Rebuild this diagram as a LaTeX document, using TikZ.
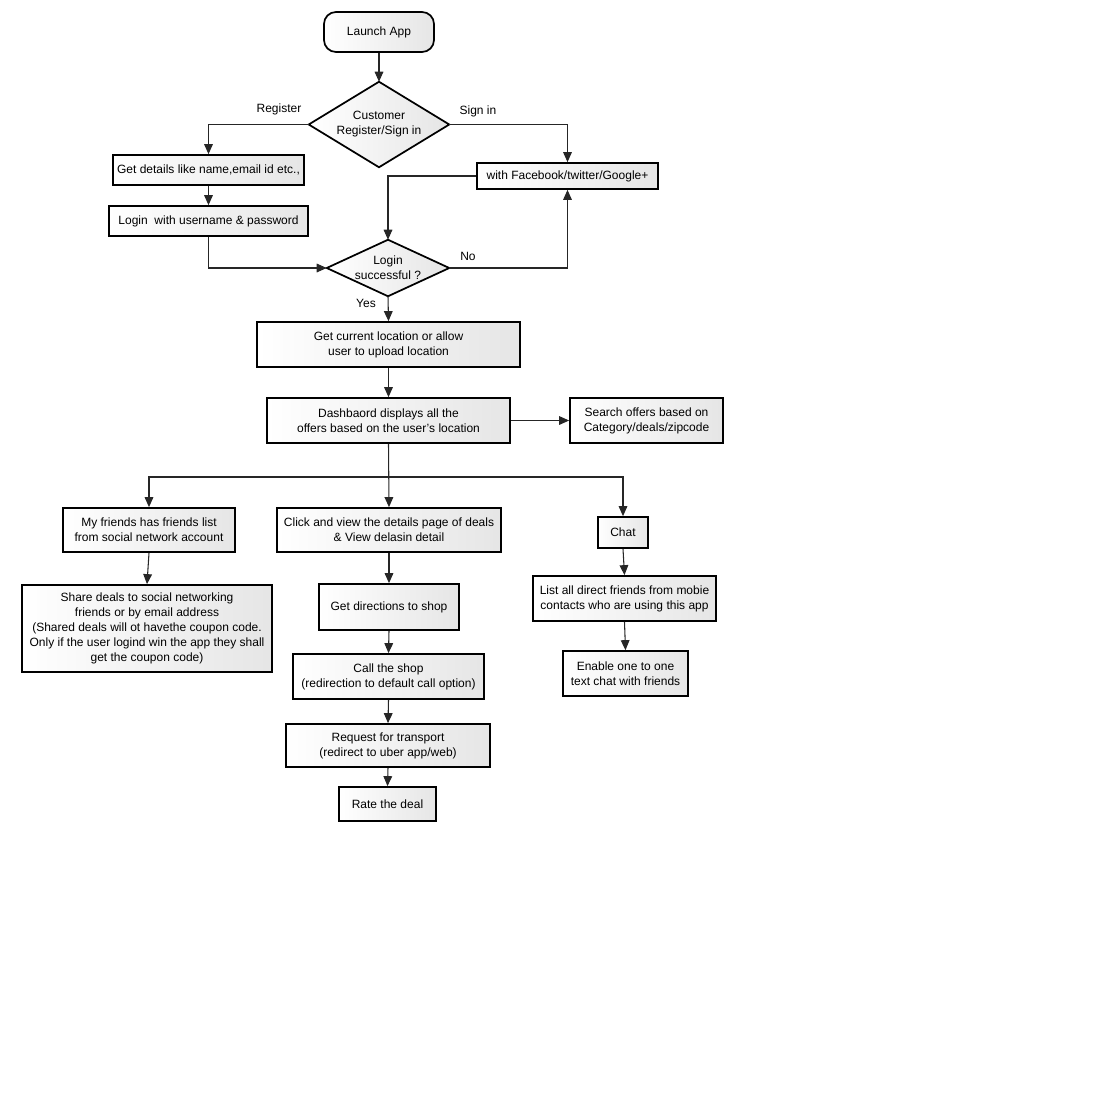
\documentclass[tikz,border=0pt]{standalone}
\usepackage{fontspec}
\setmainfont{Liberation Sans}
\usetikzlibrary{arrows.meta}
\pgfdeclarelayer{bg}
\pgfsetlayers{bg,main}
\tikzset{
  x=0.75pt, y=-0.75pt,
  txt/.style={font=\fontsize{9}{11.25}\selectfont, align=center, inner sep=0pt},
  sz/.style 2 args={minimum width=#1*0.75pt, minimum height=#2*0.75pt},
  box/.style={txt, draw=black, line width=1.3pt, left color=white, right color=black!10},
  rbox/.style={box, rounded corners=9pt},
  dianode/.style={txt},
  diashape/.style={draw=black, line width=1.3pt, left color=white, right color=black!10},
  conn/.style={draw=black!85, line width=0.8pt, -{Triangle[length=7.5pt,width=6.5pt]}},
  lbl/.style={txt}
}
\begin{document}
\begin{tikzpicture}
\useasboundingbox (0,0) rectangle (1100,1100);

% nodes
\node[rbox, sz={110}{40}] (launch) at (379,32) {Launch App};
\node[dianode, sz={140}{85}] (cust) at (379,124.5) {Customer\\Register/Sign in};
\node[box, sz={191}{30}] (details) at (208.5,170) {Get details like name,email id etc.,};
\node[box, sz={199}{30}] (loginpw) at (208.5,221) {Login\ \ with username \& password};
\node[box, sz={181}{26}] (fb) at (567.5,176) {with Facebook/twitter/Google+};
\node[dianode, sz={122}{56}] (ok) at (388,268) {Login\\successful ?};
\node[box, sz={263}{45}] (loc) at (388.5,344.5) {Get current location or allow\\user to upload location};
\node[box, sz={243}{45}] (dash) at (388.5,420.5) {Dashbaord displays all the\\offers based on the user's location};
\node[box, sz={153}{45}] (search) at (646.5,420.5) {Search offers based on\\Category/deals/zipcode};
\node[box, sz={172}{44}] (friends) at (149,530) {My friends has friends list\\from social network account};
\node[box, sz={224}{44}] (click) at (389,530) {Click and view the details page of deals\\\& View delasin detail};
\node[box, sz={50}{31}] (chat) at (623,532.5) {Chat};
\node[box, sz={250}{87}] (share) at (147,628.5) {Share deals to social networking\\friends or by email address\\(Shared deals will ot havethe coupon code.\\Only if the user logind win the app they shall\\get the coupon code)};
\node[box, sz={140}{46}] (dir) at (389,607) {Get directions to shop};
\node[box, sz={191}{45}] (call) at (388.5,676.5) {Call the shop\\(redirection to default call option)};
\node[box, sz={204}{43}] (uber) at (388,745.5) {Request for transport\\(redirect to uber app/web)};
\node[box, sz={97}{34}] (rate) at (387.5,804) {Rate the deal};
\node[box, sz={183}{45}] (list) at (624.5,598.5) {List all direct friends from mobie\\contacts who are using this app};
\node[box, sz={125}{45}] (enable) at (625.5,673.5) {Enable one to one\\text chat with friends};

\begin{pgfonlayer}{bg}
  \path[diashape] (cust.north) -- (cust.east) -- (cust.south) -- (cust.west) -- cycle;
  \path[diashape] (ok.north) -- (ok.east) -- (ok.south) -- (ok.west) -- cycle;
\end{pgfonlayer}

% labels
\node[lbl] (lreg) at (279,109) {Register};
\node[lbl] (lsign) at (478,111) {Sign in};
\node[lbl] (lno) at (468,256) {No};
\node[lbl] (lyes) at (366,303) {Yes};

% connectors
\draw[conn] (launch.south) -- (cust.north);
\draw[conn] (cust.west) -| (details.north);
\draw[conn] (cust.east) -| (fb.north);
\draw[conn] (details.south) -- (loginpw.north);
\draw[conn] (loginpw.south) |- (ok.west);
\draw[conn] (fb.west) -| (ok.north);
\draw[conn] (ok.east) -| (fb.south);
\draw[conn] (ok.south) -- (loc.north);
\draw[conn] (loc.south) -- (dash.north);
\draw[conn] (dash.east) -- (search.west);
\coordinate (br) at (389,477);
\draw[conn] (dash.south) -- (click.north);
\draw[conn] (br) -| (friends.north);
\draw[conn] (br) -| (chat.north);
\draw[conn] (friends.south) -- (share.north);
\draw[conn] (click.south) -- (dir.north);
\draw[conn] (dir.south) -- (call.north);
\draw[conn] (call.south) -- (uber.north);
\draw[conn] (uber.south) -- (rate.north);
\draw[conn] (chat.south) -- (list.north);
\draw[conn] (list.south) -- (enable.north);
\end{tikzpicture}
\end{document}
